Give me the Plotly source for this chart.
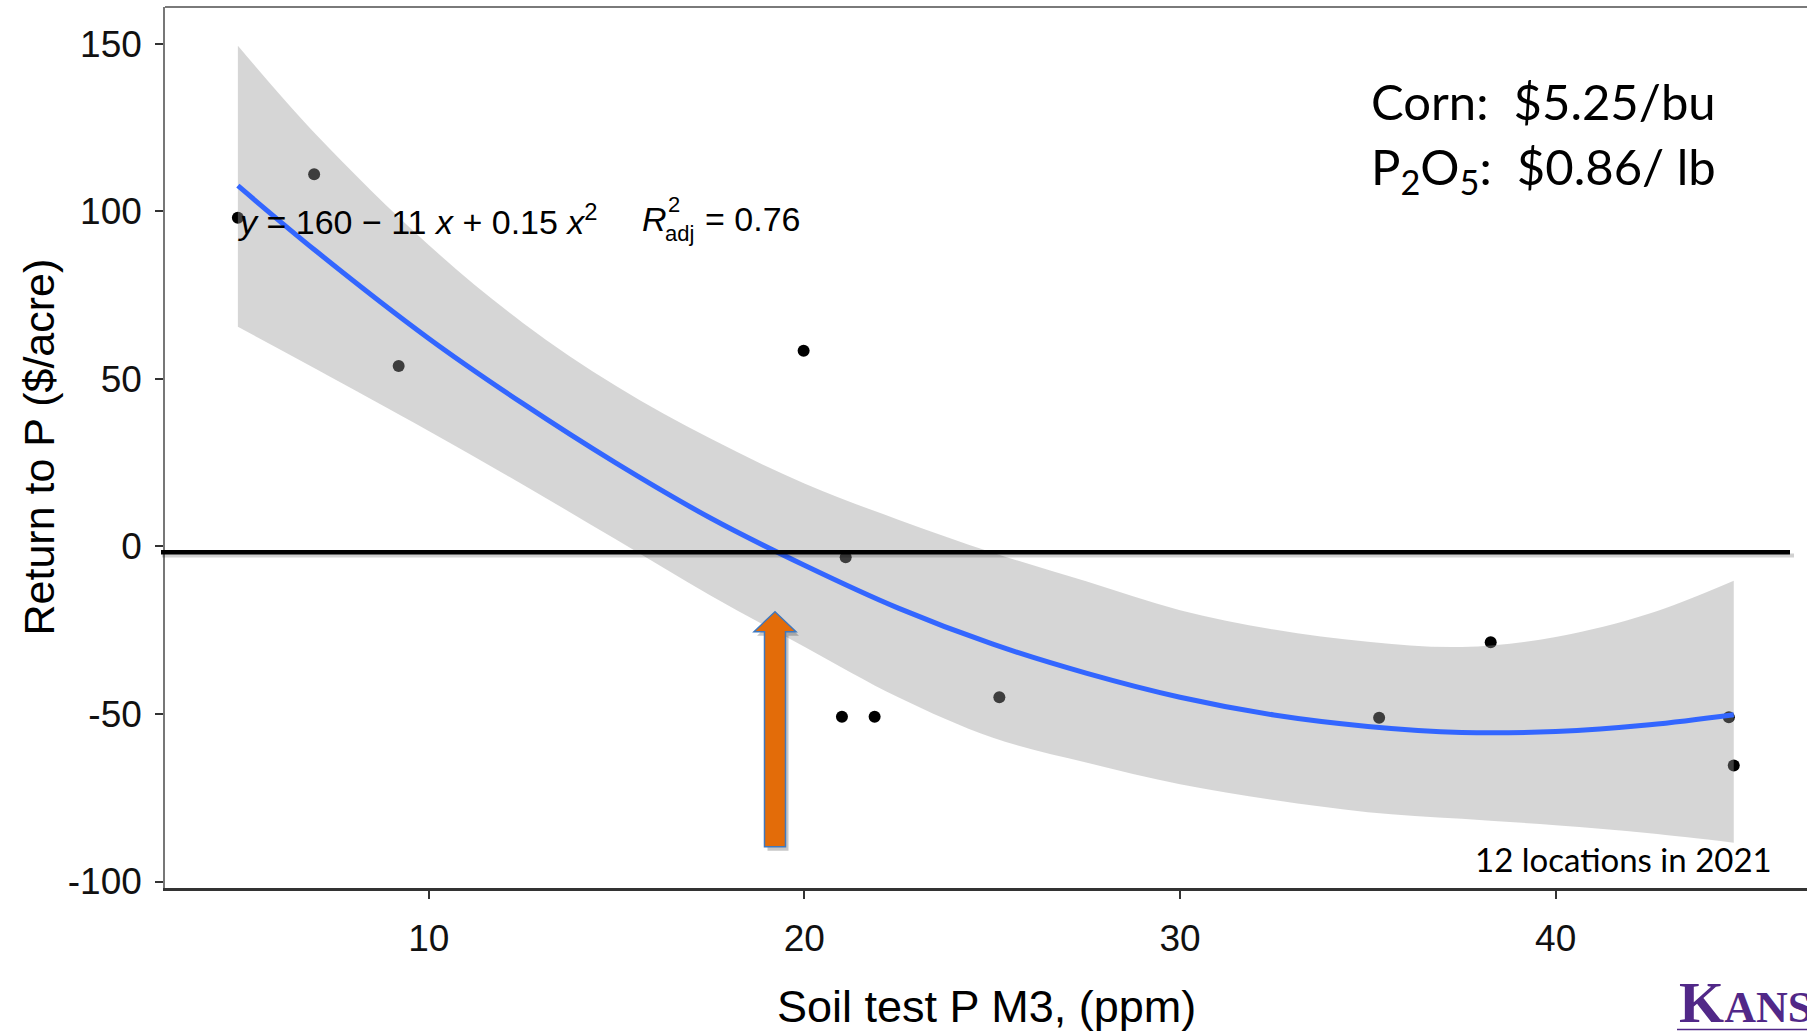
import plotly.graph_objects as go

# ---------------- data ----------------
soil_p = [4.92, 6.95, 9.2, 19.98, 21.1, 21.0, 21.87, 25.19, 35.3, 38.27, 44.61, 44.74]
return_p = [98.1, 111.1, 53.9, 58.4, -3.2, -50.8, -50.8, -45.0, -51.1, -28.6, -51.0, -65.4]

fit_x = [4.92, 7.0, 10.0, 12.5, 15.0, 17.5, 20.0, 22.5, 25.0, 27.5, 30.0, 32.5, 35.0, 37.5, 40.0, 42.5, 44.74]
fit_y = [107.7, 88.2, 62.1, 42.7, 24.8, 8.5, -5.6, -18.4, -29.1, -37.8, -45.0, -50.3, -53.7, -55.5, -55.2, -53.2, -50.2]
ci_upper = [149.5, 123.0, 90.0, 66.8, 47.8, 32.2, 18.8, 8.0, -1.8, -10.4, -19.0, -24.8, -28.4, -30.0, -27.0, -20.0, -10.2]
ci_lower = [65.6, 53.0, 34.5, 18.5, 2.0, -14.6, -29.9, -45.0, -57.0, -64.5, -71.0, -75.7, -79.3, -81.3, -83.2, -85.6, -88.4]

x_ticks = [10, 20, 30, 40]
y_ticks = [-100, -50, 0, 50, 100, 150]

x_title = "Soil test P M3, (ppm)"
y_title = "Return to P ($/acre)"

# ---------------- layout geometry ----------------
W, H = 1807, 1031
L, R, T, B = 165, 0, 7, 143
X_RANGE = [2.98, 46.69]
Y_RANGE = [-101.94, 161.04]


def pxx(px):
    return (px - L) / (W - L - R)


def pxy(py):
    return (H - B - py) / (H - B - T)


fig = go.Figure()

# points (drawn first so the CI band tints them like ggplot)
fig.add_trace(go.Scatter(
    x=soil_p, y=return_p, mode="markers",
    marker=dict(size=12, color="black"), showlegend=False, hoverinfo="x+y"))

# confidence band
fig.add_trace(go.Scatter(
    x=fit_x, y=ci_lower, mode="lines", line=dict(width=0, shape="spline"),
    showlegend=False, hoverinfo="skip"))
fig.add_trace(go.Scatter(
    x=fit_x, y=ci_upper, mode="lines", line=dict(width=0, shape="spline"),
    fill="tonexty", fillcolor="rgba(153,153,153,0.4)",
    showlegend=False, hoverinfo="skip"))

# fitted line
fig.add_trace(go.Scatter(
    x=fit_x, y=fit_y, mode="lines", line=dict(color="#3366FF", width=5, shape="spline"),
    showlegend=False))

shapes = []
# top border
shapes.append(dict(type="line", xref="paper", yref="paper", x0=0, x1=1, y0=1, y1=1,
                   line=dict(color="#7a7a7a", width=2)))
# zero line with a soft shadow
shapes.append(dict(type="line", xref="paper", yref="y", x0=pxx(162), x1=pxx(1794),
                   y0=-2.7, y1=-2.7, line=dict(color="rgba(0,0,0,0.18)", width=4)))
shapes.append(dict(type="line", xref="paper", yref="y", x0=pxx(161), x1=pxx(1790),
                   y0=-1.7, y1=-1.7, line=dict(color="black", width=4.5)))


def arrow_path(dx=0, dy=0):
    cx, tip, base, bottom, hw, sw = 775 + dx, 611.7 + dy, 631.7 + dy, 846.7 + dy, 21, 10.5
    pts = [(cx, tip), (cx + hw, base), (cx + sw, base), (cx + sw, bottom),
           (cx - sw, bottom), (cx - sw, base), (cx - hw, base)]
    return "M " + " L ".join(f"{pxx(a):.5f},{pxy(b):.5f}" for a, b in pts) + " Z"


shapes.append(dict(type="path", xref="paper", yref="paper", path=arrow_path(3, 4),
                   fillcolor="rgba(0,0,0,0.22)", line=dict(width=0)))
shapes.append(dict(type="path", xref="paper", yref="paper", path=arrow_path(),
                   fillcolor="#E36C09", line=dict(color="#3F78BE", width=1.5)))
# logo underline
shapes.append(dict(type="line", xref="paper", yref="paper", x0=pxx(1677), x1=pxx(1807),
                   y0=pxy(1029.5), y1=pxy(1029.5), line=dict(color="#512888", width=1.5)))

ann = []
ARIAL = "Liberation Sans, Arial, sans-serif"
CAL = "Lato, Carlito, Calibri, sans-serif"


def add(text, x, y, size, family=ARIAL, xanchor="left", yanchor="middle", color="black", angle=0):
    ann.append(dict(text=text, x=pxx(x), y=pxy(y), xref="paper", yref="paper",
                    xanchor=xanchor, yanchor=yanchor, showarrow=False, textangle=angle,
                    font=dict(family=family, size=size, color=color)))


# regression equation
add("<i>y</i> = 160 \u2212 11 <i>x</i> + 0.15 <i>x</i><sup>2</sup>", 236, 219, 34)
add("<i>R</i>", 640, 219, 34)
add("2", 666, 204, 22)
add("adj", 663, 234, 22)
add("= 0.76", 703, 219, 34)

# price box
add("Corn:  $5.25/bu", 1369, 101, 49, family=CAL)
add("P<sub>2</sub>O<sub>5</sub>:  $0.86/ lb", 1369, 170, 49, family=CAL)

# note
add("12 locations in 2021", 1473, 859, 33, family=CAL)

# logo fragment
add("<b><span style='font-size:58px'>K</span>ANS</b>", 1677, 1002, 44,
    family="Liberation Serif, Times New Roman, serif", color="#512888")

# axis titles
add(x_title, (L + W) / 2, 1006, 45, xanchor="center")
add(y_title, 38, (T + H - B) / 2, 43, xanchor="center", angle=-90)

fig.update_layout(
    width=W, height=H,
    margin=dict(l=L, r=R, t=T, b=B, pad=0),
    paper_bgcolor="white", plot_bgcolor="white",
    shapes=shapes, annotations=ann, showlegend=False,
    xaxis=dict(range=X_RANGE, tickvals=x_ticks, ticktext=[str(v) for v in x_ticks],
               showgrid=False, zeroline=False, showline=True, linecolor="#333333", linewidth=2.5,
               ticks="outside", ticklen=8, tickwidth=2, tickcolor="#333333",
               tickfont=dict(family=ARIAL, size=37, color="#111111"),
               ticklabelstandoff=8),
    yaxis=dict(range=Y_RANGE, tickvals=y_ticks, ticktext=[str(v) for v in y_ticks],
               showgrid=False, zeroline=False, showline=True, linecolor="#777777", linewidth=1.5,
               ticks="outside", ticklen=8, tickwidth=2, tickcolor="#333333",
               tickfont=dict(family=ARIAL, size=37, color="#111111"),
               ticklabelstandoff=6),
)

fig.write_html("out.html")
